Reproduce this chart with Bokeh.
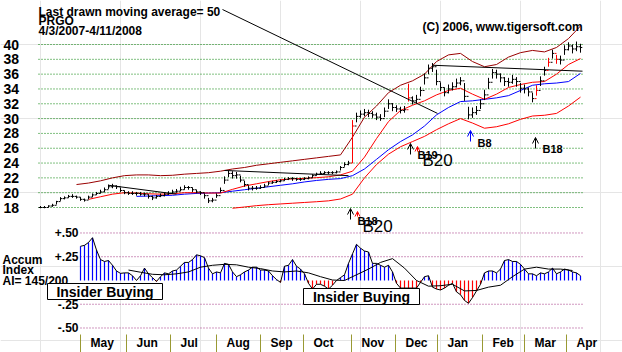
from bokeh.plotting import figure
from bokeh.models import Range1d, Arrow, OpenHead
from bokeh.core.properties import value
from bokeh.embed import file_html
from bokeh.resources import INLINE

# ---------------- data (one sample = about two sessions) ----------------
close = [
    18.0, 18.0, 18.2, 18.3, 18.8, 19.2, 19.3, 19.5, 19.5, 19.4,
    19.1, 19.0, 19.4, 19.7, 19.9, 20.1, 20.4, 20.8, 20.9, 20.8,
    20.3, 20.0, 19.9, 19.9, 19.9, 19.8, 19.8, 19.5, 19.3, 19.5,
    19.6, 19.8, 19.9, 20.1, 20.2, 20.4, 20.7, 20.7, 20.4, 20.1,
    20.0, 19.6, 18.9, 19.0, 19.6, 20.3, 21.7, 22.6, 22.3, 22.4,
    21.7, 21.1, 20.6, 20.6, 20.6, 20.7, 20.9, 21.3, 21.4, 21.5,
    21.6, 21.8, 21.9, 21.9, 21.8, 21.8, 21.9, 22.0, 22.3, 22.5,
    22.6, 22.7, 22.7, 22.7, 22.8, 23.4, 23.8, 24.0, 29.0, 30.3,
    30.6, 30.8, 30.7, 30.5, 30.2, 30.0, 31.0, 32.0, 31.5, 31.3,
    31.1, 31.2, 32.8, 32.4, 32.6, 33.8, 35.5, 36.8, 37.0, 35.0,
    34.2, 33.5, 34.0, 34.3, 34.8, 35.1, 33.0, 30.5, 30.8, 31.1,
    32.0, 33.2, 34.9, 36.2, 36.0, 35.5, 35.0, 34.9, 35.3, 35.0,
    34.1, 34.0, 33.6, 32.7, 33.8, 35.1, 36.5, 37.6, 38.8, 38.0,
    37.9, 39.3, 39.8, 39.4, 39.7, 39.6]
high = [
    18.2, 18.2, 18.3, 18.5, 18.9, 19.4, 19.5, 19.7, 19.8, 19.6,
    19.4, 19.2, 19.6, 19.9, 20.1, 20.4, 20.7, 21.1, 21.2, 21.0,
    20.7, 20.3, 20.2, 20.2, 20.1, 20.1, 20.0, 19.8, 19.6, 19.7,
    19.9, 20.0, 20.2, 20.4, 20.5, 20.8, 21.0, 20.9, 20.7, 20.4,
    20.2, 19.9, 19.3, 19.3, 19.9, 20.7, 22.2, 23.0, 22.9, 22.8,
    22.3, 21.6, 21.0, 20.9, 20.9, 21.0, 21.2, 21.5, 21.6, 21.7,
    21.8, 22.0, 22.1, 22.1, 22.0, 22.0, 22.1, 22.2, 22.5, 22.7,
    22.9, 22.9, 22.9, 22.9, 23.0, 23.6, 24.1, 24.3, 29.8, 30.8,
    31.1, 31.3, 31.2, 31.0, 30.8, 30.6, 31.5, 32.6, 32.1, 31.8,
    31.6, 31.7, 34.7, 33.0, 33.2, 34.3, 36.1, 37.3, 37.5, 36.6,
    34.9, 34.2, 34.6, 34.9, 35.4, 35.6, 34.8, 31.6, 31.5, 31.7,
    32.6, 33.9, 35.5, 36.7, 36.6, 36.1, 35.6, 35.5, 35.9, 35.6,
    34.8, 34.6, 34.2, 33.5, 34.5, 35.7, 37.0, 38.2, 39.3, 38.6,
    38.5, 39.9, 40.3, 40.0, 40.4, 40.1]
low = [
    17.9, 17.9, 18.0, 18.1, 18.4, 18.9, 19.1, 19.3, 19.3, 19.2,
    18.9, 18.8, 19.1, 19.4, 19.7, 19.9, 20.1, 20.5, 20.6, 20.5,
    20.1, 19.8, 19.7, 19.7, 19.6, 19.6, 19.5, 19.2, 19.0, 19.2,
    19.4, 19.5, 19.7, 19.9, 20.0, 20.2, 20.4, 20.4, 20.1, 19.9,
    19.7, 19.2, 18.6, 18.7, 19.3, 20.0, 21.2, 22.1, 21.9, 21.9,
    21.4, 20.8, 20.3, 20.3, 20.4, 20.5, 20.7, 21.0, 21.2, 21.3,
    21.4, 21.6, 21.7, 21.6, 21.6, 21.6, 21.7, 21.8, 22.0, 22.3,
    22.4, 22.5, 22.5, 22.5, 22.6, 23.0, 23.5, 23.7, 24.0, 29.5,
    30.1, 30.3, 30.2, 30.1, 29.8, 29.7, 30.2, 31.3, 31.0, 30.9,
    30.7, 30.8, 32.3, 31.9, 32.1, 33.0, 34.6, 36.0, 36.3, 34.5,
    33.7, 33.0, 33.4, 33.8, 34.2, 34.5, 32.4, 29.9, 30.1, 30.5,
    31.3, 32.5, 34.0, 35.4, 35.4, 34.9, 34.4, 34.3, 34.7, 34.3,
    33.5, 33.4, 33.0, 32.2, 33.1, 34.4, 35.8, 37.0, 38.1, 37.4,
    37.3, 38.6, 39.2, 38.8, 39.1, 38.9]
red_bars = [78, 92, 124, 127, 129]

# moving averages and bands, one value every 3 samples
band_step = 3
ma21_first = 12
ma21 = [19.1, 19.45, 19.8, 20.0, 19.95, 19.85, 19.8, 19.85, 20.0, 20.0,
        19.95, 19.95, 20.45, 20.9, 21.2, 21.5, 21.75, 21.87, 21.93, 22.03,
        22.15, 22.4, 22.9, 24.8, 27.3, 29.6, 31.1, 31.8, 32.4, 33.2,
        33.8, 34.1, 33.3, 32.6, 33.3, 34.2, 34.6, 34.9, 35.0, 36.0,
        37.3, 38.1]
upper_first = 9
upper = [21.1, 21.3, 21.6, 22.0, 22.3, 22.4, 22.4, 22.3, 22.35, 22.5, 22.6,
         22.7, 22.9, 23.2, 23.4, 23.7, 23.9, 24.1, 24.3, 24.5, 24.7,
         24.9, 25.1, 27.5, 30.2, 31.7, 33.5, 34.5, 35.1, 36.0, 37.7,
         38.6, 38.8, 37.7, 37.0, 37.3, 38.3, 38.9, 39.2, 39.0, 39.6,
         40.8, 42.5]
lower_first = 48
lower = [17.9, 18.07, 18.25, 18.38, 18.48, 18.58, 18.68, 18.78, 18.9, 19.15,
         19.8, 22.0, 23.8, 25.2, 26.2, 26.9, 27.6, 28.5, 29.3, 30.0,
         29.4, 28.7, 28.9, 29.3, 29.9, 30.35, 30.45, 30.7, 31.7, 32.9]
ma50_first = 24
ma50 = [19.5, 19.55, 19.6, 19.65, 19.8, 19.9, 19.95, 20.0, 20.2, 20.4,
        20.6, 20.8, 21.0, 21.2, 21.45, 21.65, 21.8, 21.9, 22.3, 23.2,
        24.5, 25.8, 26.9, 27.8, 29.0, 30.5, 31.5, 32.3, 32.4, 32.6,
        32.8, 33.1, 33.8, 34.5, 34.7, 34.8, 35.0, 36.1]

# accumulation index
ai_first = 10
ai = [0.36, 0.37, 0.40, 0.45, 0.32, 0.22, 0.20, 0.21, 0.16, 0.10,
      0.075, 0.08, 0.08, 0.05, 0.00, 0.05, 0.13, 0.07, 0.03, -0.01,
      0.04, 0.08, 0.07, 0.10, 0.11, 0.15, 0.19, 0.19, 0.22, 0.27,
      0.26, 0.24, 0.13, 0.07, 0.09, 0.08, 0.18, 0.17, 0.09, 0.04,
      0.06, 0.09, 0.11, 0.14, 0.14, 0.11, 0.11, 0.10, 0.05, 0.01,
      -0.02, 0.15, 0.16, 0.22, 0.15, 0.12, 0.07, -0.03, -0.09, -0.04,
      -0.04, -0.06, -0.09, -0.05, 0.00, 0.03, 0.06, 0.18, 0.28, 0.38,
      0.34, 0.31, 0.30, 0.18, 0.18, 0.16, 0.14, 0.16, 0.09, -0.03,
      -0.08, -0.08, -0.08, -0.08, -0.08, -0.02, 0.04, 0.05, -0.07, -0.09,
      -0.10, -0.08, -0.05, -0.03, -0.12, -0.15, -0.21, -0.24, -0.18, -0.11,
      -0.04, 0.08, 0.10, 0.10, 0.08, 0.12, 0.21, 0.22, 0.20, 0.20,
      0.17, 0.12, 0.07, 0.07, 0.05, 0.08, 0.07, 0.09, 0.13, 0.07,
      0.09, 0.12, 0.11, 0.09, 0.08, 0.05]
ai_ma_first = 22
ai_ma = [0.11, 0.087, 0.065, 0.06, 0.07, 0.09, 0.14, 0.16, 0.17, 0.165,
         0.14, 0.125, 0.10, 0.09, 0.10, 0.08, 0.04, 0.005, 0.0, 0.06,
         0.12, 0.19, 0.23, 0.13, 0.0, -0.06, -0.055, -0.04, -0.11, -0.105,
         -0.07, -0.05, 0.04, 0.12, 0.14, 0.12, 0.12, 0.105]

# trend lines (sample index, price)
trend_x0 = [17, 46, 98]
trend_y0 = [21.0, 23.0, 37.2]
trend_x1 = [34, 77, 135.5]
trend_y1 = [19.8, 22.3, 36.4]

# buy signals
sig_x = [77.5, 92.5, 107.5, 123.75]
sig_price = [17.86, 26.64, 28.39, 27.45]
sig_label = ["B18", "B19", "B8", "B18"]
sig_big = ["B20", "B20", "", ""]
sig_color = ["black", "black", "blue", "black"]

price_ticks = [40, 38, 36, 34, 32, 30, 28, 26, 24, 22, 20, 18]
ai_ticks = [0.5, 0.25, -0.25, -0.5]
ai_tick_labels = ["+.50", "+.25", "-.25", "-.50"]
months = ["May", "Jun", "Jul", "Aug", "Sep", "Oct", "Nov", "Dec", "Jan", "Feb", "Mar", "Apr"]
month_starts = [10, 21.5, 32.5, 44, 55, 65.75, 77.75, 88.75, 99.25, 110.5, 121, 131.5]

# ---------------- layout helpers ----------------
W, H = 622, 352
X0, X1 = -10.0, 145.5
Y0, Y1 = -1.57, 45.94
A0, A1 = -0.758, 2.947


def dx(px):
    return px * (X1 - X0) / W


def dy(px):
    return px * (Y1 - Y0) / H


def sx(px):
    return X0 + dx(px)


def sy(px):
    return Y1 - dy(px)


def sa(px):
    return A1 - px * (A1 - A0) / H


F = value("Liberation Sans")

p = figure(width=W, height=H, x_range=Range1d(X0, X1), y_range=Range1d(Y0, Y1),
           output_backend="svg", toolbar_location=None, min_border=0,
           x_axis_location=None, y_axis_location=None,
           background_fill_color="white", border_fill_color="white",
           outline_line_color=None)
p.extra_y_ranges = {"ai": Range1d(A0, A1)}

# grid lines
n = len(close)
p.segment(x0=[-0.5] * len(price_ticks), x1=[n - 0.5] * len(price_ticks),
          y0=price_ticks, y1=price_ticks, line_color="#008000",
          line_dash="1 2", line_width=1)
p.segment(x0=[ai_first] * len(ai_ticks), x1=[n - 0.5] * len(ai_ticks),
          y0=ai_ticks, y1=ai_ticks, line_color="#a0307f",
          line_dash="1 2", line_width=1, y_range_name="ai")

# tick labels
p.text(x=[sx(3)] * len(price_ticks), y=price_ticks,
       text=[str(t) for t in price_ticks], text_font=F, text_font_size="14px",
       text_font_style="bold", text_baseline="middle", text_align="left",
       text_color="black")
p.text(x=[sx(78)] * len(ai_ticks), y=ai_ticks, text=ai_tick_labels,
       text_font=F, text_font_size="12px", text_font_style="bold",
       text_baseline="middle", text_align="right", text_color="black",
       y_range_name="ai")


def series_x(first, vals, step=1):
    return [first + step * i for i in range(len(vals))]


# bands and moving averages
p.line(series_x(upper_first, upper, band_step), upper, line_color="#990000", line_width=1)
p.line(series_x(lower_first, lower, band_step), lower, line_color="red", line_width=1)
p.line(series_x(ma50_first, ma50, band_step), ma50, line_color="blue", line_width=1)
p.line(series_x(ma21_first, ma21, band_step), ma21, line_color="red", line_width=1)

# trend lines
p.segment(x0=trend_x0, y0=trend_y0, x1=trend_x1, y1=trend_y1,
          line_color="black", line_width=1)

# price bars
xs = list(range(n))
colors = ["red" if i in red_bars else "black" for i in xs]
p.segment(x0=xs, y0=low, x1=xs, y1=high, line_color=colors, line_width=1)
p.segment(x0=xs, y0=close, x1=[x + 0.45 for x in xs], y1=close,
          line_color=colors, line_width=1)
opens = [close[0]] + close[:-1]
p.segment(x0=[x - 0.45 for x in xs], y0=opens, x1=xs, y1=opens,
          line_color=colors, line_width=1)

# accumulation index: vertical hatch from zero to each value
ax = series_x(ai_first, ai)
zeros = [0] * len(ai)
ai_colors = ["blue" if v >= 0 else "red" for v in ai]
p.segment(x0=ax, x1=ax, y0=zeros, y1=ai, line_color=ai_colors, line_width=1.2,
          y_range_name="ai")
p.line(ax, ai, line_color="black", line_width=1, y_range_name="ai")
p.line(series_x(ai_ma_first, ai_ma, band_step), ai_ma, line_color="black",
       line_width=1, y_range_name="ai")

# signals
for k, pr, lab, big, c in zip(sig_x, sig_price, sig_label, sig_big, sig_color):
    p.add_layout(Arrow(x_start=k, y_start=pr - dy(11), x_end=k, y_end=pr,
                       end=OpenHead(size=6, line_color=c, line_width=1),
                       line_color=c, line_width=1))
    if big:
        p.add_layout(Arrow(x_start=k + dx(7), y_start=pr - dy(8), x_end=k + dx(7),
                           y_end=pr - dy(3),
                           end=OpenHead(size=5, line_color="red", line_width=1),
                           line_color="red", line_width=1))
        p.text(x=[k + dx(12)], y=[pr - dy(8)], text=[big], text_font=F,
               text_font_size="17px", text_baseline="top", text_align="left",
               text_color="black")
    p.text(x=[k + dx(7)], y=[pr - dy(6)], text=[lab], text_font=F,
           text_font_size="11px", text_font_style="bold", text_baseline="top",
           text_align="left", text_color="black")

# pointer from the title to the 50-day line
p.segment(x0=[sx(222)], y0=[sy(9)], x1=[99.25], y1=[30.7], line_color="black", line_width=1)

# titles
p.text(x=[sx(38)] * 3, y=[sy(11), sy(20.5), sy(30)],
       text=["Last drawn moving average= 50", "PRGO", "4/3/2007-4/11/2008"],
       text_font=F, text_font_size="12px", text_font_style="bold",
       text_baseline="alphabetic", text_align="left", text_color="black")
p.text(x=[sx(422)], y=[sy(26)], text=["(C) 2006, www.tigersoft.com"],
       text_font=F, text_font_size="12px", text_font_style="bold",
       text_baseline="alphabetic", text_align="left", text_color="black")

# accum index labels
p.text(x=[sx(2)] * 3, y=[sa(259), sa(269.5), sa(280)],
       text=["Accum", "Index", "AI= 145/200"], text_font=F,
       text_font_size="12px", text_font_style="bold",
       text_baseline="alphabetic", text_align="left", text_color="black",
       y_range_name="ai")

# insider buying boxes
box_l = [sx(47), sx(303)]
box_r = [sx(162), sx(419)]
box_t = [sa(283), sa(288)]
box_b = [sa(299), sa(304)]
p.quad(left=box_l, right=box_r, top=box_t, bottom=box_b, fill_color="white",
       line_color="black", line_width=1, y_range_name="ai")
p.text(x=[(a + b) / 2 for a, b in zip(box_l, box_r)],
       y=[(a + b) / 2 for a, b in zip(box_t, box_b)],
       text=["Insider Buying", "Insider Buying"], text_font=F,
       text_font_size="14px", text_font_style="bold", text_baseline="middle",
       text_align="center", text_color="black", y_range_name="ai")

# month axis
p.segment(x0=month_starts, x1=month_starts, y0=[sa(334)] * len(months),
          y1=[sa(352)] * len(months), line_color="#999933", line_width=1,
          y_range_name="ai")
p.text(x=[m + dx(10) for m in month_starts], y=[sa(342)] * len(months),
       text=months, text_font=F, text_font_size="12px", text_font_style="bold",
       text_baseline="middle", text_align="left", text_color="black",
       y_range_name="ai")

open("out.html", "w").write(file_html(p, INLINE))
